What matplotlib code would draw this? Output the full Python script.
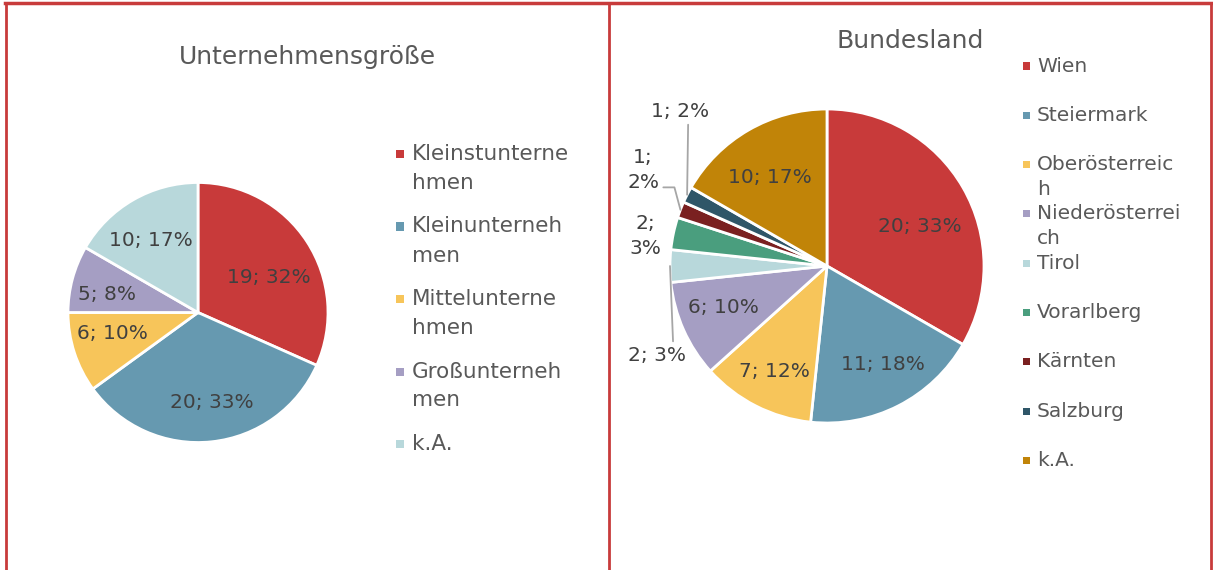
import numpy as np
import matplotlib
matplotlib.use("Agg")
import matplotlib.pyplot as plt
from matplotlib.patches import Rectangle
from matplotlib.lines import Line2D

# Unternehmensgröße
size_cats = ["Kleinstunternehmen", "Kleinunternehmen", "Mittelunternehmen",
             "Großunternehmen", "k.A."]
size_legend = ["Kleinstunterne\nhmen", "Kleinunterneh\nmen", "Mittelunterne\nhmen",
               "Großunterneh\nmen", "k.A."]
size_vals = [19, 20, 6, 5, 10]
size_colors = ["#C83A3A", "#6699B0", "#F7C55A", "#A59EC3", "#B8D8DB"]

# Bundesland
state_cats = ["Wien", "Steiermark", "Oberösterreich", "Niederösterreich", "Tirol",
              "Vorarlberg", "Kärnten", "Salzburg", "k.A."]
state_legend = ["Wien", "Steiermark", "Oberösterreic\nh", "Niederösterrei\nch", "Tirol",
                "Vorarlberg", "Kärnten", "Salzburg", "k.A."]
state_vals = [20, 11, 7, 6, 2, 2, 1, 1, 10]
state_colors = ["#C83A3A", "#6699B0", "#F7C55A", "#A59EC3", "#B8D8DB",
                "#4A9E7E", "#7A2020", "#2F5668", "#C18408"]

W, H = 1213, 570
TXT = "#595959"
LBL = "#404040"
BORDER = "#C83B3B"
LFS = 14.5
plt.rcParams["font.family"] = ["DejaVu Sans"]

fig = plt.figure(figsize=(W / 100, H / 100), dpi=100)


def fx(px):
    return px / W


def fy(py):
    return 1 - py / H


def pie_axes(cx, cy, r):
    return fig.add_axes([fx(cx - r), fy(cy + r), 2 * r / W, 2 * r / H])


def draw_pie(ax, vals, colors):
    wedges, _ = ax.pie(vals, colors=colors, startangle=90, counterclock=False,
                       wedgeprops=dict(edgecolor="white", linewidth=2))
    ax.set_xlim(-1, 1)
    ax.set_ylim(-1, 1)
    ax.axis("off")
    total = sum(vals)
    labels = [f"{v}; {round(100 * v / total):.0f}%" for v in vals]
    mids = [(w.theta1 + w.theta2) / 2 for w in wedges]
    return labels, mids


def inner_labels(ax, labels, mids, place):
    # place: slice index -> (angle shift in degrees, radius fraction)
    for i, (shift, d) in place.items():
        a = np.deg2rad(mids[i] + shift)
        ax.text(d * np.cos(a), d * np.sin(a), labels[i], ha="center", va="center",
                fontsize=LFS, color=LBL)


def legend(entries, colors, x_sq, x_txt, y0, step, lsp, sq, fs):
    for k, (lab, c) in enumerate(zip(entries, colors)):
        yc = y0 + k * step
        fig.add_artist(Rectangle((fx(x_sq), fy(yc + sq / 2)), sq / W, sq / H,
                                 transform=fig.transFigure, color=c, lw=0))
        for i, line in enumerate(lab.split("\n")):
            fig.text(fx(x_txt), fy(yc + i * lsp), line, fontsize=fs, color=TXT,
                     ha="left", va="center")


# panel borders
for x in (6, 609, 1211):
    fig.add_artist(Line2D([fx(x), fx(x)], [0, fy(3)], transform=fig.transFigure,
                          color=BORDER, lw=2))
fig.add_artist(Line2D([fx(5), fx(1212)], [fy(3), fy(3)], transform=fig.transFigure,
                      color=BORDER, lw=2.5))

# left pie
ax1 = pie_axes(198, 312.5, 130)
labels1, mids1 = draw_pie(ax1, size_vals, size_colors)
inner_labels(ax1, labels1, mids1,
             {0: (-7, 0.61), 1: (3, 0.70), 2: (-4, 0.68), 3: (4, 0.71), 4: (3, 0.66)})
fig.text(fx(307), fy(57), "Unternehmensgröße", ha="center", va="center",
         fontsize=18, color=TXT)
legend(size_legend, size_colors, 396, 412, 154, 72.5, 29, 8, 15.5)

# right pie
ax2 = pie_axes(827, 266, 157)
labels2, mids2 = draw_pie(ax2, state_vals, state_colors)
inner_labels(ax2, labels2, mids2,
             {0: (-7, 0.64), 1: (2.5, 0.72), 2: (0.5, 0.75), 3: (-2, 0.71), 8: (3, 0.67)})

# small slices: labels outside, some with leader lines
outside = {
    4: ((-1.083, -0.567), (0.78, 1.0), False, "arc3"),
    5: ((-1.159, 0.191), None, True, None),
    6: ((-1.171, 0.611), (1.0, 0.1), True, "angle,angleA=0,angleB=105,rad=0"),
    7: ((-0.936, 0.987), (0.64, 0.0), False, "arc3"),
}
for i, (pos, rel, wrap, conn) in outside.items():
    txt = labels2[i].replace(" ", "\n") if wrap else labels2[i]
    a = np.deg2rad(mids2[i])
    arrow = None
    if rel is not None:
        arrow = dict(arrowstyle="-", color="#A6A6A6", lw=1.3, shrinkA=1, shrinkB=0,
                     relpos=rel, connectionstyle=conn)
    ax2.annotate(txt, xy=(np.cos(a), np.sin(a)), xytext=pos, ha="center", va="center",
                 fontsize=LFS, color=LBL, linespacing=1.35, arrowprops=arrow,
                 annotation_clip=False)

fig.text(fx(910), fy(41), "Bundesland", ha="center", va="center", fontsize=18,
         color=TXT)
legend(state_legend, state_colors, 1023, 1037, 66, 49.3, 24.5, 7, 14.5)

fig.savefig("out.png", dpi=100)
